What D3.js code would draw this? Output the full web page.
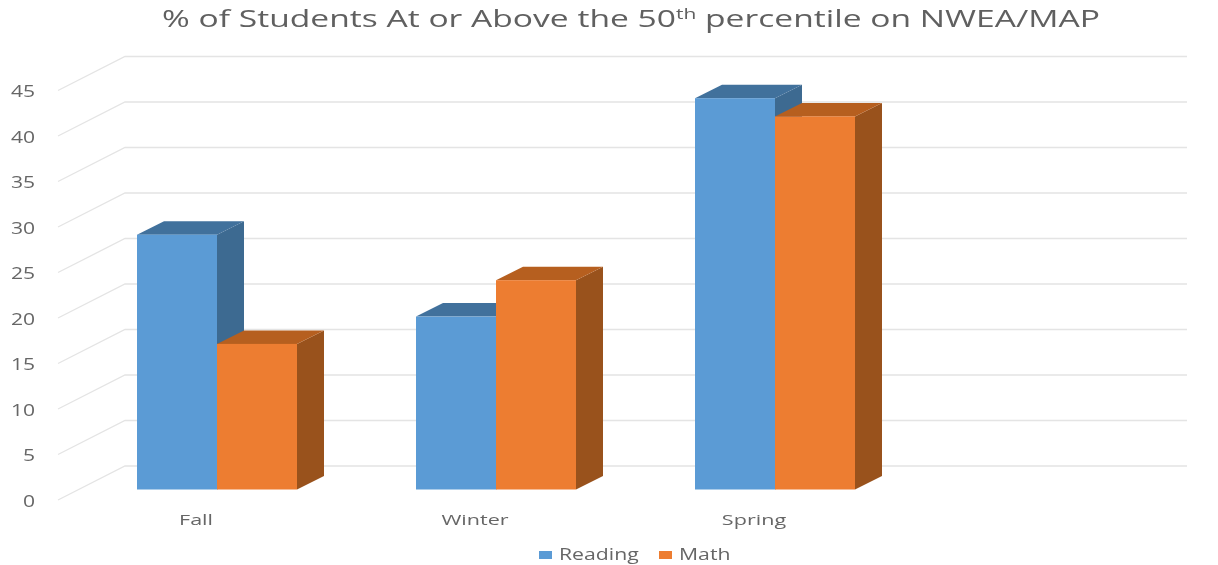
<!DOCTYPE html>
<html>
<head>
<meta charset="utf-8">
<script src="https://cdn.jsdelivr.net/npm/d3@7"></script>
<style>
  html, body { margin: 0; padding: 0; background: #fff; }
  svg { display: block; font-family: "Open Sans", sans-serif; }
  #chart { filter: blur(0.5px); }
</style>
</head>
<body>
<div id="chart"></div>
<script>
const categories = ["Fall", "Winter", "Spring"];
const seriesNames = ["Reading", "Math"];
const reading = [28, 19, 43];
const math = [16, 23, 41];
const yTicks = [0, 5, 10, 15, 20, 25, 30, 35, 40, 45];

const width = 1218;
const height = 565;

const colors = {
  Reading: { front: "#5b9bd5", top: "#41719c", side: "#3d6a91" },
  Math: { front: "#ed7d31", top: "#b65f1f", side: "#99521c" }
};

const svg = d3.select("#chart").append("svg")
  .attr("width", width)
  .attr("height", height);

// bars sit on a plane between the front of the floor and the back wall
const floorY = 489.5;
const y = d3.scaleLinear().domain([0, 45]).range([0, 409.5]);
const x = d3.scaleBand()
  .domain([...categories, ""]) // the sheet had an empty fourth category
  .range([77.5, 1193.5])
  .paddingInner(119 / 279)
  .paddingOuter(119 / 279 / 2);
const xSeries = d3.scaleBand().domain(seriesNames).range([0, x.bandwidth()]);

const wall = { left: 125, right: 1187, floor: 466, dx: -67, dy: 34 };
const barDepth = { dx: 27, dy: -13.5 };

// gridlines
const grid = svg.append("g")
  .attr("fill", "none")
  .attr("stroke", "#e4e4e4")
  .attr("stroke-width", 1.3);
grid.selectAll("path")
  .data(yTicks)
  .join("path")
  .attr("d", d => {
    const yy = wall.floor - y(d);
    return `M${wall.left + wall.dx},${yy + wall.dy}L${wall.left},${yy}L${wall.right},${yy}`;
  });

// tick labels
svg.append("g")
  .selectAll("text")
  .data(yTicks)
  .join("text")
  .attr("transform", d => `translate(35,${wall.floor + wall.dy - y(d) + 6.5}) scale(1.36,1)`)
  .attr("text-anchor", "end")
  .attr("font-size", 15.5)
  .attr("fill", "#666")
  .text(d => d);

// bars
const rows = categories.flatMap((c, i) => [
  { category: c, series: "Reading", value: reading[i] },
  { category: c, series: "Math", value: math[i] }
]);

const bar = svg.append("g")
  .selectAll("g")
  .data(rows)
  .join("g");

function barBox(d) {
  const x0 = x(d.category) + xSeries(d.series);
  return { x0, x1: x0 + xSeries.bandwidth(), top: floorY - y(d.value) };
}

bar.append("path")
  .attr("fill", d => colors[d.series].side)
  .attr("d", d => {
    const b = barBox(d);
    return `M${b.x1},${floorY}L${b.x1 + barDepth.dx},${floorY + barDepth.dy}L${b.x1 + barDepth.dx},${b.top + barDepth.dy}L${b.x1},${b.top}Z`;
  });
bar.append("path")
  .attr("fill", d => colors[d.series].top)
  .attr("d", d => {
    const b = barBox(d);
    return `M${b.x0},${b.top}L${b.x0 + barDepth.dx},${b.top + barDepth.dy}L${b.x1 + barDepth.dx},${b.top + barDepth.dy}L${b.x1},${b.top}Z`;
  });
bar.append("rect")
  .attr("fill", d => colors[d.series].front)
  .attr("x", d => barBox(d).x0)
  .attr("y", d => barBox(d).top)
  .attr("width", xSeries.bandwidth())
  .attr("height", d => y(d.value));

// category labels
svg.append("g")
  .selectAll("text")
  .data(categories)
  .join("text")
  .attr("transform", d => `translate(${x(d) + x.bandwidth() / 2 - 21},525) scale(1.44,1)`)
  .attr("text-anchor", "middle")
  .attr("font-size", 15)
  .attr("fill", "#666")
  .text(d => d);

// title
const title = svg.append("text")
  .attr("transform", "translate(631,27) scale(1.4,1)")
  .attr("text-anchor", "middle")
  .attr("font-size", 24)
  .attr("fill", "#606060");
title.append("tspan").text("% of Students At or Above the 50");
title.append("tspan").attr("font-size", 15).attr("dy", -8).text("th");
title.append("tspan").attr("dy", 8).text(" percentile on NWEA/MAP");

// legend
const legendX = d3.scaleOrdinal().domain(seriesNames).range([539, 659]);
const legend = svg.append("g")
  .selectAll("g")
  .data(seriesNames)
  .join("g")
  .attr("transform", d => `translate(${legendX(d)},551)`);
legend.append("rect")
  .attr("width", 13)
  .attr("height", 8)
  .attr("fill", d => colors[d].front);
legend.append("text")
  .attr("transform", "translate(20,9) scale(1.37,1)")
  .attr("font-size", 15.5)
  .attr("fill", "#666")
  .text(d => d);
</script>
</body>
</html>
